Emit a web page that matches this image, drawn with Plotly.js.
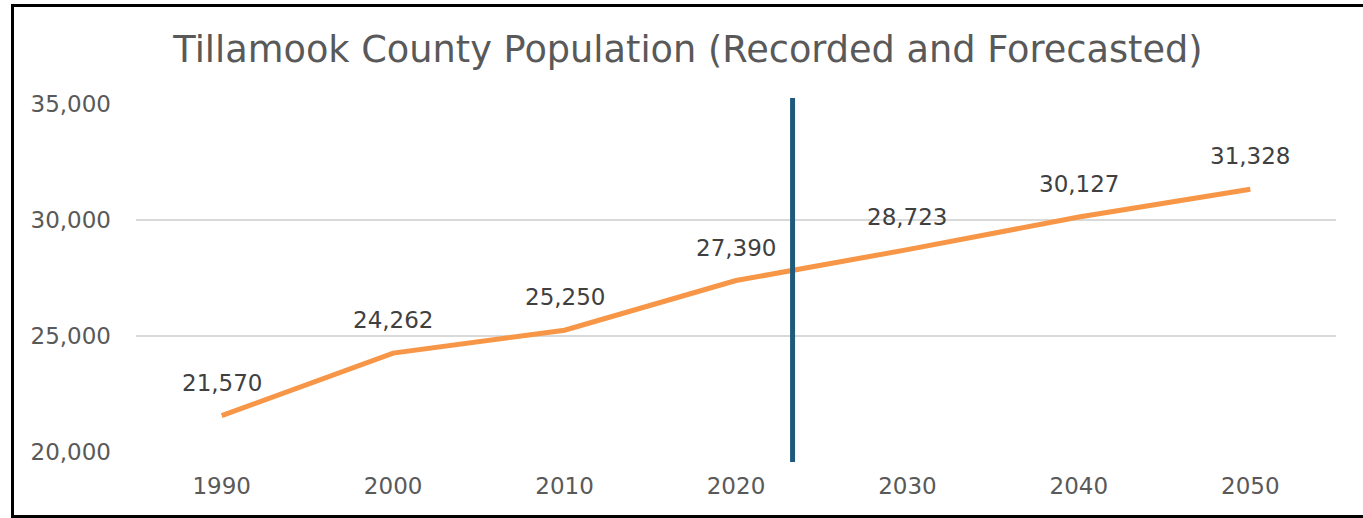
<!DOCTYPE html>
<html>
<head>
<meta charset="utf-8">
<script src="https://cdn.plot.ly/plotly-3.0.1.min.js"></script>
<style>
  html, body { margin: 0; padding: 0; background: #ffffff; overflow: hidden; width: 1363px; height: 518px; }
  #frame { position: absolute; left: 11px; top: 4px; width: 1360px; height: 508px;
           border: 3px solid #000000; background: #ffffff; }
  #chart { width: 1360px; height: 508px; }
</style>
</head>
<body>
<div id="frame"><div id="chart"></div></div>
<script>
// ---- data ----
const years = [1990, 2000, 2010, 2020, 2030, 2040, 2050];
const population = [21570, 24262, 25250, 27390, 28723, 30127, 31328];
const yTicks = [20000, 25000, 30000, 35000];
const yTickLabels = ["20,000", "25,000", "30,000", "35,000"];
const xTickLabels = ["1990", "2000", "2010", "2020", "2030", "2040", "2050"];
const forecastStartYear = 2023.3;
const chartTitle = "Tillamook County Population (Recorded and Forecasted)";

const fontFamily = "'DejaVu Sans', sans-serif";
const fmt = v => v.toLocaleString("en-US");

const trace = {
  x: years,
  y: population,
  type: "scatter",
  mode: "lines",
  line: { color: "#F79646", width: 5 },
  hoverinfo: "skip",
  showlegend: false
};

const annotations = years.map((yr, i) => ({
  x: yr,
  y: population[i],
  xref: "x",
  yref: "y",
  text: fmt(population[i]),
  showarrow: false,
  xanchor: "center",
  yanchor: "bottom",
  yshift: 18,
  font: { family: fontFamily, size: 23, color: "#404040" }
}));

const layout = {
  width: 1360,
  height: 508,
  margin: { l: 122, r: 38, t: 97, b: 63 },
  paper_bgcolor: "#ffffff",
  plot_bgcolor: "#ffffff",
  font: { family: fontFamily, color: "#595959" },
  title: {
    text: chartTitle,
    font: { family: fontFamily, size: 36.7, color: "#595959" },
    xref: "container",
    yref: "container",
    x: 0.4956,
    xanchor: "center",
    y: 0.918,
    yanchor: "middle"
  },
  xaxis: {
    type: "linear",
    range: [1985, 2055],
    tickvals: years,
    ticktext: xTickLabels,
    showgrid: false,
    zeroline: false,
    showline: false,
    ticks: "",
    ticklabelstandoff: 18,
    tickfont: { family: fontFamily, size: 23, color: "#595959" },
    fixedrange: true
  },
  yaxis: {
    range: [20000, 35000],
    tickvals: yTicks,
    ticktext: yTickLabels,
    showgrid: true,
    gridcolor: "#D9D9D9",
    gridwidth: 1.5,
    zeroline: false,
    showline: false,
    ticks: "",
    ticklabelstandoff: 24,
    tickfont: { family: fontFamily, size: 23, color: "#595959" },
    fixedrange: true
  },
  shapes: [{
    type: "line",
    xref: "x",
    yref: "paper",
    x0: forecastStartYear,
    x1: forecastStartYear,
    y0: -0.029,
    y1: 1.017,
    line: { color: "#1F5A7C", width: 5 },
    layer: "above"
  }],
  annotations: annotations
};

Plotly.newPlot("chart", [trace], layout, { displayModeBar: false, staticPlot: true });
</script>
</body>
</html>
